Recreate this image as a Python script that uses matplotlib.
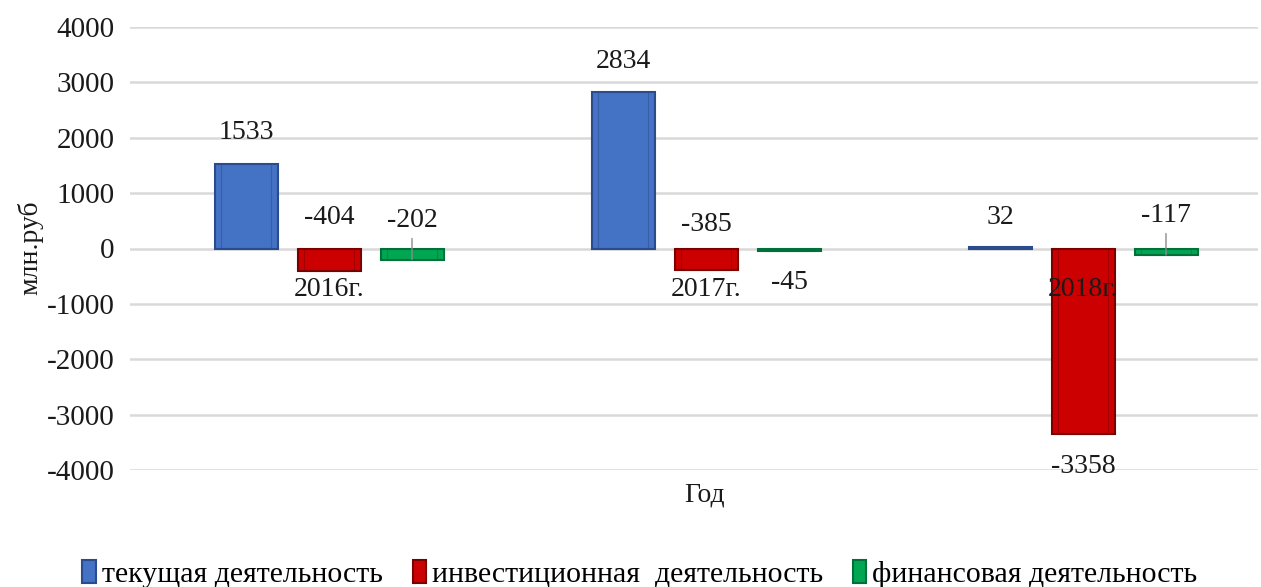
# Cash flows by activity type, 2016-2018

import numpy as np
import matplotlib.pyplot as plt

years = ['2016г.', '2017г.', '2018г.']
series_names = ['текущая деятельность', 'инвестиционная  деятельность', 'финансовая деятельность']
current_ops = [1533, 2834, 32]
investing = [-404, -385, -3358]
financing = [-202, -45, -117]
y_ticks = [-4000, -3000, -2000, -1000, 0, 1000, 2000, 3000, 4000]

# styling
face_colors = ['#4472C4', '#CC0000', '#00A651']
edge_colors = ['#2B4C8C', '#7A0000', '#00703A']
# label offsets in pixels, per series then per year
label_dy = [
    [31, 30, 29],
    [31, 24, -32],
    [28, -34, 33],
]
# True -> offset is measured from the zero line, False -> from the bar end
from_zero = [
    [False, False, False],
    [True, True, False],
    [True, True, True],
]
leader = [
    [False, False, False],
    [False, False, False],
    [True, False, True],
]

plt.rcParams['font.family'] = ['Liberation Serif', 'DejaVu Serif']
TXT = '#1a1a1a'

fig = plt.figure(figsize=(12.61, 5.87), dpi=100)
W, H = 1261, 587
ax = fig.add_axes([130 / W, (H - 470) / H, (1258 - 130) / W, (470 - 27) / H])

x = np.arange(len(years))
step = 83 / 377
width = 63 / 377
data = [current_ops, investing, financing]

for i, vals in enumerate(data):
    pos = x + (i - 1) * step
    ax.bar(pos, vals, width=width, color=face_colors[i], edgecolor=edge_colors[i],
           linewidth=1.5, zorder=3, label=series_names[i])
    # inner bevel
    ax.bar(pos, vals, width=width * 0.8, color='none', edgecolor=edge_colors[i],
           linewidth=0.8, zorder=4, alpha=0.5)

for i, vals in enumerate(data):
    for j, v in enumerate(vals):
        px = x[j] + (i - 1) * step
        anchor = 0 if from_zero[i][j] else v
        dy = label_dy[i][j]
        if leader[i][j]:
            ax.annotate(f'{v}', xy=(px, v), xytext=(0, dy - v / 18.05), textcoords='offset pixels',
                        ha='center', va='center', fontsize=20, color=TXT, zorder=6,
                        arrowprops=dict(arrowstyle='-', color='#8c8c8c', lw=1,
                                        shrinkA=2, shrinkB=0))
        else:
            ax.annotate(f'{v}', xy=(px, anchor), xytext=(0, dy), textcoords='offset pixels',
                        ha='center', va='center', fontsize=20, color=TXT, zorder=6)

# category labels at the zero line
for j, yr in enumerate(years):
    ax.annotate(yr, xy=(x[j], 0), xytext=(0, -41), textcoords='offset pixels',
                ha='center', va='center', fontsize=20, color=TXT, zorder=7)

ax.set_xlim((130 - 329) / 377, (1258 - 329) / 377)
ax.set_ylim(-4000, 4000)
ax.set_yticks(y_ticks)
ax.set_yticklabels([str(t) for t in y_ticks], fontsize=21, color=TXT)
ax.tick_params(axis='y', length=0, pad=11)
ax.set_xticks([])
ax.grid(axis='y', color='#D9D9D9', linewidth=1.8, zorder=0)
ax.set_axisbelow(True)
for spine in ax.spines.values():
    spine.set_visible(False)

fig.text(30 / W, 1 - 248 / H, 'млн.руб', rotation=90, ha='center', va='center',
         fontsize=20, color=TXT)
fig.text(705 / W, 1 - 495 / H, 'Год', ha='center', va='center', fontsize=20, color=TXT)

handles, labels = ax.get_legend_handles_labels()
fig.legend(handles, labels, loc='center', bbox_to_anchor=(640 / W, 1 - 574 / H), ncol=3,
           frameon=False, fontsize=21.5, handlelength=0.45, handleheight=0.8,
           handletextpad=0.2, columnspacing=1.0)

fig.savefig('out.png', dpi=100, facecolor='white')
